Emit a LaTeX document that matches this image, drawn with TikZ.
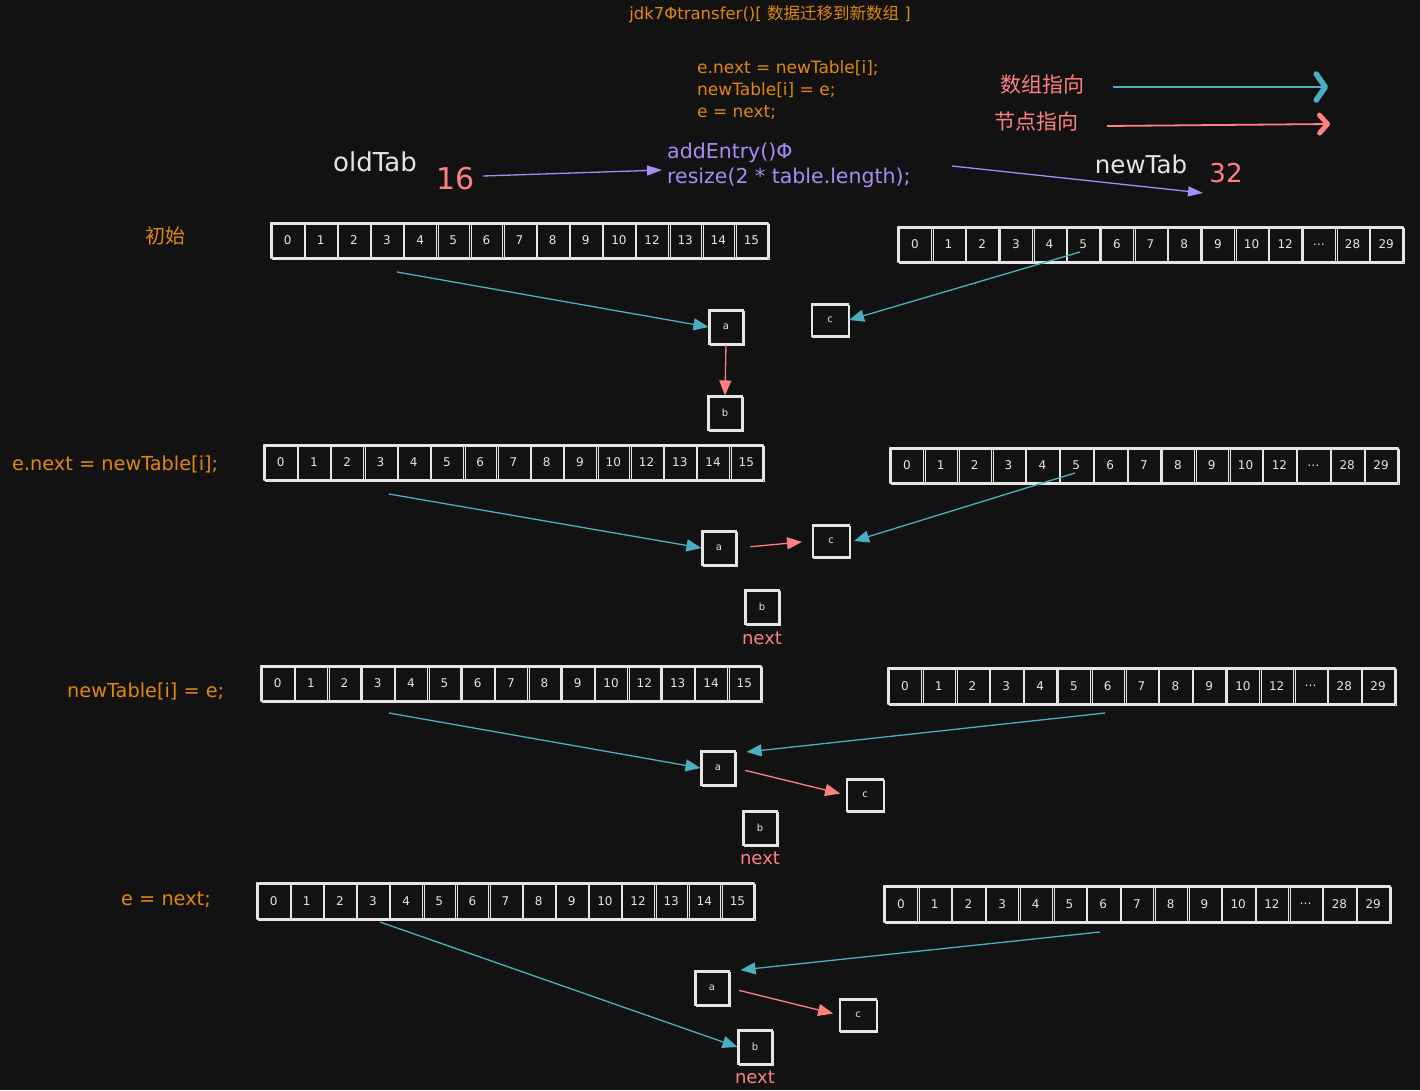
\documentclass[tikz,border=0pt]{standalone}
\usepackage{fontspec}
\setmainfont{DejaVu Sans}
\newfontfamily\cjk{Noto Sans CJK SC}
\usetikzlibrary{arrows.meta}
\definecolor{bgc}{HTML}{121212}
\definecolor{orc}{HTML}{E0870F}
\definecolor{puc}{HTML}{A98BF5}
\definecolor{cyc}{HTML}{4AAFC0}
\definecolor{pkc}{HTML}{FF8080}
\definecolor{wtc}{HTML}{E6E6E6}
\newcommand\mkarr[6]{%
  \pgfmathsetmacro\cw{#4/15}%
  \foreach \l [count=\i] in #6 {
    \node[cell, minimum width=\cw pt, minimum height=#5 pt] (#1-\i) at ({#2+(\i-0.5)*\cw}, {#3+#5/2}) {\l};
  }}
\newcommand\oldlab{0,1,2,3,4,5,6,7,8,9,10,12,13,14,15}
\newcommand\newlab{0,1,2,3,4,5,6,7,8,9,10,12,\ldots,28,29}
\begin{document}
\begin{tikzpicture}[x=1pt,y=-1pt,
  rough/.style={postaction={draw=wtc, line width=0.6pt, transform canvas={xshift=1.2pt,yshift=-0.9pt}}},
  cell/.style={draw=wtc, line width=1.1pt, text=wtc, inner sep=0pt, line join=round, rough,
    font=\fontsize{12}{12}\selectfont},
  sq/.style={draw=wtc, line width=1.1pt, text=wtc, inner sep=0pt, minimum width=34pt, minimum height=34pt,
    rough, font=\fontsize{10}{10}\selectfont},
  sqc/.style={sq, minimum width=37pt, minimum height=32pt},
  cyarr/.style={draw=cyc, line width=1.3pt, -{Triangle[length=15pt,width=12pt]}},
  pkarr/.style={draw=pkc, line width=1.3pt, -{Triangle[length=15pt,width=12pt]}},
  puarr/.style={draw=puc, line width=1.3pt, -{Triangle[length=15pt,width=10pt]}},
  orlab/.style={text=orc, inner sep=0pt},
  nextlab/.style={text=pkc, inner sep=0pt, font=\fontsize{18}{18}\selectfont},
]
\fill[bgc] (0,0) rectangle (1420,1090);
\useasboundingbox (0,0) rectangle (1420,1090);

% title
\node[orlab, font=\fontsize{16.5}{16.5}\selectfont] (title) at (770,14) {jdk7Φtransfer()[ {\cjk 数据迁移到新数组} ]};

% code
\node[orlab, anchor=north west, align=left, font=\fontsize{17}{22}\selectfont] (code) at (697,60)
  {e.next = newTable[i];\\newTable[i] = e;\\e = next;};

% legend
\node[text=pkc, inner sep=0pt, font=\cjk\fontsize{21}{21}\selectfont] (lg1) at (1042,85) {数组指向};
\node[text=pkc, inner sep=0pt, font=\cjk\fontsize{21}{21}\selectfont] (lg2) at (1036,121) {节点指向};
\coordinate (lg1a) at (1113,87);
\coordinate (lg1b) at (1328,87);
\coordinate (lg2a) at (1107,126);
\coordinate (lg2b) at (1330,124);
\draw[draw=cyc, line width=1.5pt, -{Straight Barb[length=9pt,width=26pt,line width=5.5pt,round]}] (lg1a) -- (lg1b);
\draw[draw=pkc, line width=1.8pt, -{Straight Barb[length=8pt,width=18pt,line width=5pt,round]}] (lg2a) -- (lg2b);

% top labels
\node[text=wtc, inner sep=0pt, font=\fontsize{26}{26}\selectfont] (oldtab) at (375,162) {oldTab};
\node[text=pkc, inner sep=0pt, font=\fontsize{30}{30}\selectfont] (n16) at (456,179) {16};
\node[text=puc, anchor=west, align=left, inner sep=0pt, font=\fontsize{20.5}{25}\selectfont] (resize) at (667,165)
  {addEntry()Φ\\resize(2 * table.length);};
\node[text=wtc, inner sep=0pt, font=\fontsize{24.5}{24.5}\selectfont] (newtab) at (1141,164) {newTab};
\node[text=pkc, inner sep=0pt, font=\fontsize{26}{26}\selectfont] (n32) at (1226,173) {32};
\coordinate (pa1) at (483,176);
\coordinate (pa2) at (662,170);
\coordinate (pb1) at (952,166);
\coordinate (pb2) at (1203,193);
\draw[puarr] (pa1) -- (pa2);
\draw[puarr] (pb1) -- (pb2);

% left labels
\node[orlab, font=\cjk\fontsize{20}{20}\selectfont] (l1) at (165,236) {初始};
\node[orlab, anchor=west, font=\fontsize{19.3}{19.3}\selectfont] (l2) at (12,464) {e.next = newTable[i];};
\node[orlab, anchor=west, font=\fontsize{19.3}{19.3}\selectfont] (l3) at (67,691) {newTable[i] = e;};
\node[orlab, anchor=west, font=\fontsize{19.3}{19.3}\selectfont] (l4) at (121,900) {e = next;};

% arrays
\mkarr{oA}{271}{223}{497}{35}{\oldlab}
\mkarr{nA}{898}{227}{505}{35}{\newlab}
\mkarr{oB}{264}{445}{499}{35}{\oldlab}
\mkarr{nB}{890}{448}{508}{35}{\newlab}
\mkarr{oC}{261}{666}{500}{35}{\oldlab}
\mkarr{nC}{888}{668}{507}{36}{\newlab}
\mkarr{oD}{257}{883}{497}{36}{\oldlab}
\mkarr{nD}{884}{886}{506}{36}{\newlab}

% row 1
\node[sq] (a1) at (726,327) {a};
\node[sqc] (c1) at (830,320) {c};
\node[sq] (b1) at (725,413) {b};
\coordinate (s1o) at (397,272);
\coordinate (s1n) at (1080,252);
\draw[cyarr] (s1o) -- (a1.west);
\draw[cyarr] (s1n) -- (c1.east);
\draw[pkarr] (a1.south) -- (b1.north);

% row 2
\node[sq] (a2) at (719,548) {a};
\node[sqc] (c2) at (831,541) {c};
\node[sq] (b2) at (762,607) {b};
\node[nextlab] (nx2) at (762,638) {next};
\coordinate (s2o) at (389,494);
\coordinate (s2n) at (1075,473);
\draw[cyarr] (s2o) -- (a2.west);
\draw[cyarr] (s2n) -- ([xshift=4pt]c2.east);
\draw[pkarr, shorten <=14pt, shorten >=10pt] (a2.east) -- (c2.west);

% row 3
\node[sq] (a3) at (718,768) {a};
\node[sqc] (c3) at (865,795) {c};
\node[sq] (b3) at (760,828) {b};
\node[nextlab] (nx3) at (760,858) {next};
\coordinate (s3o) at (389,713);
\coordinate (s3n) at (1105,713);
\draw[cyarr] (s3o) -- (a3.west);
\draw[cyarr] (s3n) -- ([xshift=11pt,yshift=16pt]a3.east);
\draw[pkarr, shorten <=10pt, shorten >=6pt] (a3.east) -- (c3.west);

% row 4
\node[sq] (a4) at (712,988) {a};
\node[sqc] (c4) at (858,1015) {c};
\node[sq] (b4) at (755,1047) {b};
\node[nextlab] (nx4) at (755,1077) {next};
\coordinate (s4o) at (380,922);
\coordinate (s4n) at (1100,932);
\draw[cyarr] (s4o) -- (b4.west);
\draw[cyarr] (s4n) -- ([xshift=11pt,yshift=18pt]a4.east);
\draw[pkarr, shorten <=10pt, shorten >=6pt] (a4.east) -- (c4.west);
\end{tikzpicture}
\end{document}
